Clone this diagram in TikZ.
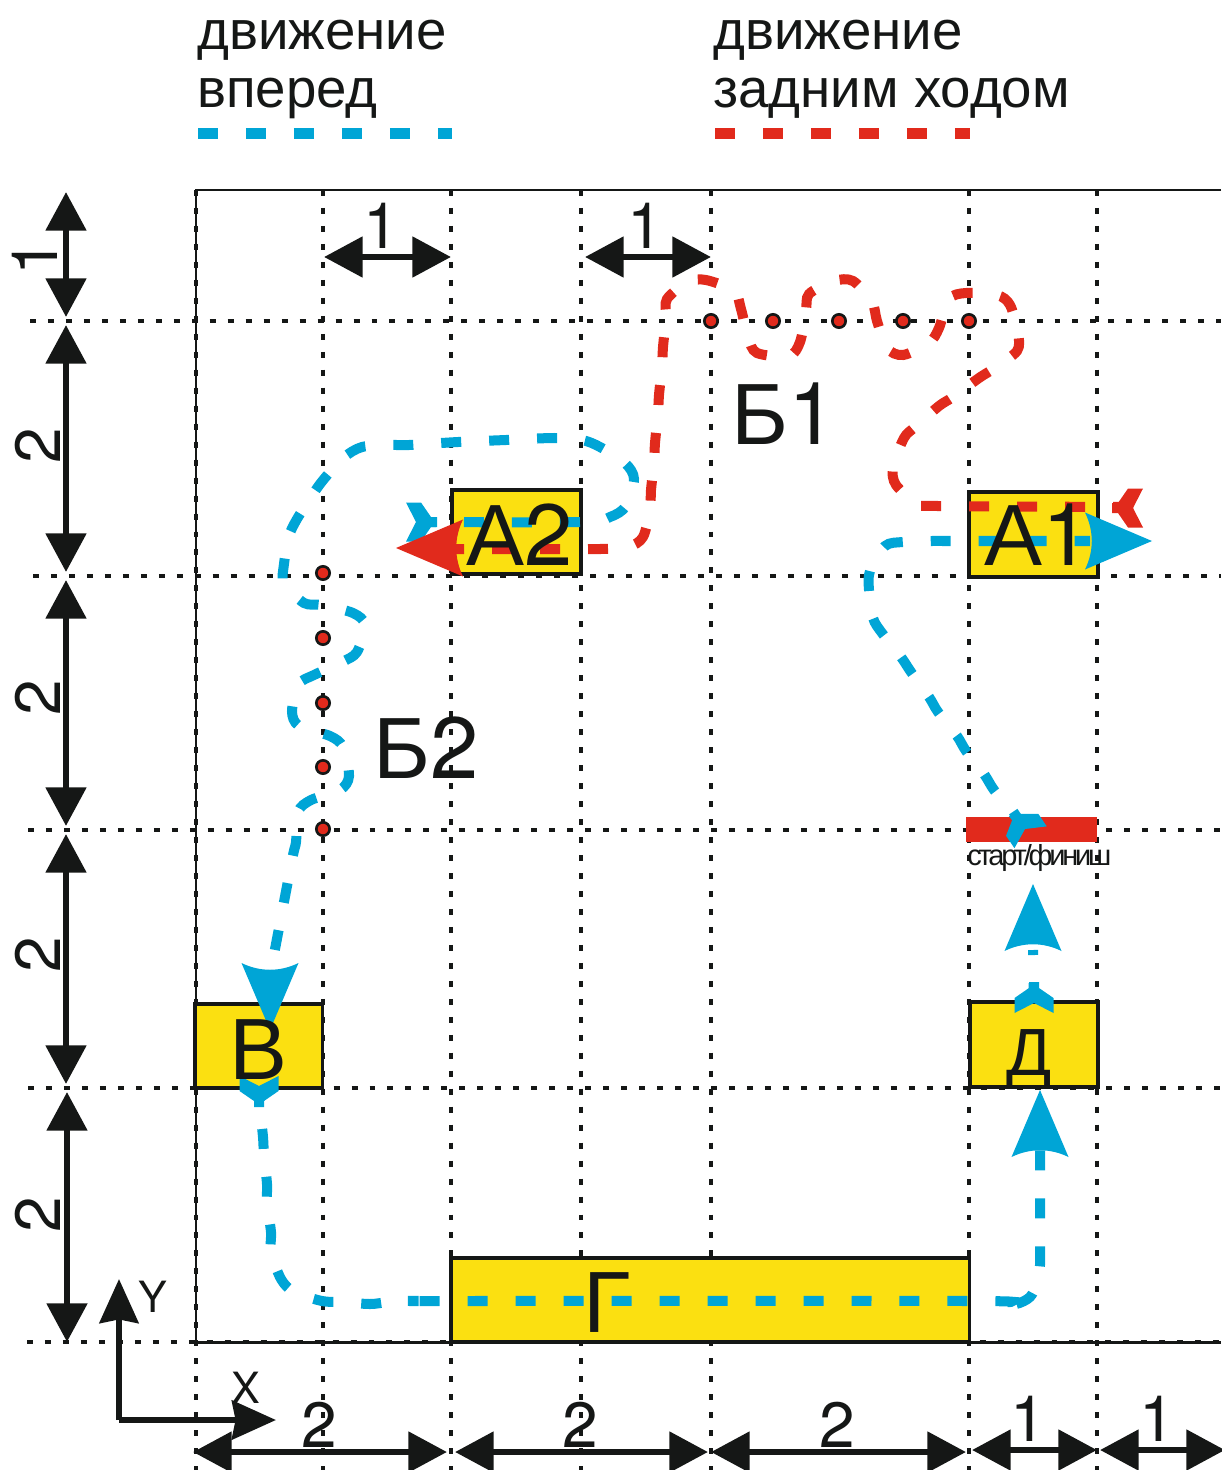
\documentclass[tikz,border=0pt]{standalone}
\usepackage{fontspec}
\setmainfont{Liberation Sans}
\newfontfamily\heros{TeX Gyre Heros}
\usetikzlibrary{arrows.meta}
\definecolor{bluec}{HTML}{00A5D6}
\definecolor{redc}{HTML}{E12A1C}
\definecolor{yelc}{HTML}{FBE011}
\definecolor{blk}{HTML}{151716}
\tikzset{
  gridline/.style={blk,line width=2.2pt,dash pattern=on 3.4pt off 6.83pt},
  frameline/.style={blk,line width=1.7pt},
  route/.style={line width=5.7pt,dash pattern=on 11.38pt off 15.93pt},
  blueroute/.style={route,bluec},
  redroute/.style={route,redc},
  box/.style={draw=blk,fill=yelc,line width=1.8pt,inner sep=0pt,outer sep=0pt,anchor=north west},
  startbar/.style={fill=redc,inner sep=0pt,outer sep=0pt,anchor=north west,minimum width=74.5pt,minimum height=14.2pt},
  dot/.style={circle,draw=blk,fill=redc,line width=1.5pt,inner sep=0pt,minimum size=7.6pt},
  dim/.style={blk,line width=3.8pt,{Triangle[length=22pt,width=22.5pt]}-{Triangle[length=22pt,width=22.5pt]}},
  axis/.style={blk,line width=3.8pt,-{Stealth[length=25pt,width=22pt,inset=2pt]}},
  big/.style={font=\fontsize{49.5pt}{50pt}\selectfont,text=blk,inner sep=0pt,anchor=base},
  digit/.style={font=\fontsize{36.4pt}{37pt}\heros,text=blk,inner sep=0pt,anchor=base},
  legend/.style={font=\fontsize{31.1pt}{32pt}\selectfont,text=blk,inner sep=0pt,anchor=base west},
  axlabel/.style={font=\fontsize{24.5pt}{25pt}\heros,text=blk,inner sep=0pt,anchor=base},
  headp/.pic={\fill[#1] (0,0) -- (-67,28.5) .. controls (-58,10) and (-58,-10) .. (-67,-28.5) -- cycle;},
  tailp/.pic={\fill[#1] (0,0) -- (-10,19.5) -- (5,19.5) -- (15,5) -- (21,5) -- (21,-5) -- (15,-5) -- (5,-19.5) -- (-10,-19.5) -- cycle;}
}
\begin{document}
\begin{tikzpicture}[x=0.02cm,y=-0.02cm]
\useasboundingbox (0,0) rectangle (1221,1470);
% grid
\foreach \gx in {196,323,451,581,711,969,1097}{\draw[gridline] (\gx,190) -- (\gx,1470);}
\foreach \gy/\gs in {321/30,576/33,830/28,1088/28,1342/27}{\draw[gridline] (\gs,\gy) -- (1221,\gy);}
% frame
\coordinate (ftl) at (196,190); \coordinate (ftr) at (1221,190);
\coordinate (fbl) at (196,1342); \coordinate (fbr) at (1221,1342);
\draw[frameline] (ftr) -- (ftl) -- (fbl) -- (fbr);
% boxes
\node[box,minimum width=73.4pt,minimum height=47.8pt] (boxA2) at (452,490) {};
\node[box,minimum width=73.4pt,minimum height=48.4pt] (boxA1) at (969,492) {};
\node[box,minimum width=72.8pt,minimum height=47.8pt] (boxV) at (195,1004) {};
\node[box,minimum width=72.8pt,minimum height=48.4pt] (boxD) at (970,1002) {};
\node[box,minimum width=295.3pt,minimum height=47.8pt] (boxG) at (451,1258) {};
\node[startbar] (bar) at (966,817) {};
% legend
\node[legend] (l1) at (197,50) {движение};
\node[legend] (l2) at (197,108) {вперед};
\node[legend] (l3) at (713,50) {движение};
\node[legend] (l4) at (713,108) {задним ходом};
\coordinate (lb1) at (198,133.5); \coordinate (lb2) at (452,133.5);
\coordinate (lr1) at (715,133.5); \coordinate (lr2) at (970,133.5);
\draw[blueroute] (lb1) -- (lb2);
\draw[redroute] (lr1) -- (lr2);
% routes
\draw[blueroute] plot[smooth,tension=0.5] coordinates {(416,522) (582,522) (610,517) (626,506) (634,479) (625,463) (600,447) (582,440) (554,438) (506,440) (458,442) (409,445) (390,445) (362,447) (343,458) (324,479) (313,494) (297,519) (289,536) (284,564) (284,583) (304,603) (322,605) (353,613) (365,625) (357,652) (342,662) (314,675) (299,684) (292,711) (299,726) (330,736) (343,747) (349,776) (340,790) (311,800) (298,812) (296,842) (292,860) (272,965)};
\draw[blueroute,dash phase=2.8pt] plot[smooth,tension=0.5] coordinates {(259,1086) (260,1108) (263,1137) (264,1155) (267,1184) (267,1203) (271,1232) (271,1252) (281,1279) (294,1292) (322,1301) (341,1302) (370,1304) (389,1302) (418,1301) (438,1301) (970,1301) (998,1303) (1016,1304) (1030,1297) (1037,1283) (1040,1265) (1040,1237) (1040,1150)};
\draw[blueroute] (1034,1003) -- (1033,950);
\draw[blueroute] plot[smooth,tension=0.5] coordinates {(1025,829) (1012,812) (994,790) (984,774) (966,751) (957,736) (938,712) (929,697) (911,672) (901,657) (882,633) (873,618) (869,590) (870,571) (885,546) (903,542) (932,541) (952,541) (1090,541)};
\draw[redroute] plot[smooth,tension=0.5] coordinates {(1133,507) (938,506) (918,504) (896,485) (893,467) (904,438) (915,427) (939,406) (953,397) (979,378) (993,369) (1017,351) (1018,333) (1010,305) (997,295) (966,293) (949,299) (939,328) (929,343) (903,355) (887,348) (877,321) (872,302) (853,281) (834,281) (809,294) (806,312) (800,342) (789,356) (757,353) (748,337) (741,309) (734,291) (706,280) (688,282) (667,299) (666,318) (663,347) (662,366) (659,395) (658,413) (655,443) (654,462) (651,490) (650,509) (643,537) (628,547) (600,549) (456,549)};
% tails and heads
\pic[rotate=0] at (416,522) {tailp=bluec};
\pic[rotate=180] at (1133,508) {tailp=redc};
\pic[rotate=90] at (1034,1003) {tailp=bluec};
\pic[rotate=-90] at (259,1086) {tailp=bluec};
\pic[rotate=124] at (1025,829) {tailp=bluec};
\pic[rotate=0] at (1152,541) {headp=bluec};
\pic[rotate=180] at (396,548) {headp=redc};
\pic[rotate=-90] at (270,1030) {headp=bluec};
\pic[rotate=90] at (1040,1090) {headp=bluec};
\pic[rotate=90] at (1033,884) {headp=bluec};
% dots
\foreach \dx/\nm in {711/a,773/b,839/c,903/d,969/e}{\node[dot] (dot\nm) at (\dx,321) {};}
\foreach \dy/\nm in {573/f,638/g,703/h,767/i,829/j}{\node[dot] (dot\nm) at (323,\dy) {};}
% dimension arrows
\coordinate (va1) at (66,192); \coordinate (va2) at (66,317);
\coordinate (vb1) at (66,325); \coordinate (vb2) at (66,572);
\coordinate (vc1) at (66,580); \coordinate (vc2) at (66,826);
\coordinate (vd1) at (66,834); \coordinate (vd2) at (66,1084);
\coordinate (ve1) at (67,1092); \coordinate (ve2) at (67,1342);
\draw[dim] (va1) -- (va2);
\draw[dim] (vb1) -- (vb2);
\draw[dim] (vc1) -- (vc2);
\draw[dim] (vd1) -- (vd2);
\draw[dim] (ve1) -- (ve2);
\coordinate (ha1) at (193,1452); \coordinate (ha2) at (447,1452);
\coordinate (hb1) at (455,1452); \coordinate (hb2) at (708,1452);
\coordinate (hc1) at (711,1452); \coordinate (hc2) at (966,1452);
\coordinate (hd1) at (972,1450); \coordinate (hd2) at (1097,1450);
\coordinate (he1) at (1100,1450); \coordinate (he2) at (1225,1450);
\draw[dim] (ha1) -- (ha2);
\draw[dim] (hb1) -- (hb2);
\draw[dim] (hc1) -- (hc2);
\draw[dim] (hd1) -- (hd2);
\draw[dim] (he1) -- (he2);
\coordinate (ta1) at (324,257); \coordinate (ta2) at (451,257);
\coordinate (tb1) at (585,257); \coordinate (tb2) at (711,257);
\draw[dim] (ta1) -- (ta2);
\draw[dim] (tb1) -- (tb2);
% axes
\coordinate (axo) at (119,1420); \coordinate (axx) at (276,1420); \coordinate (axy) at (119,1279);
\draw[axis] (axo) -- (axx);
\draw[axis] (axo) -- (axy);
\node[axlabel] (ylab) at (153,1312) {Y};
\node[axlabel] (xlab) at (246,1403) {X};
% labels
\node[big] (tA2) at (520,565) {А{\heros 2}};
\node[big] (tA1) at (1038,565) {А{\heros 1}};
\node[big] (tB1) at (784,444) {Б{\heros 1}};
\node[big] (tB2) at (426,778) {Б{\heros 2}};
\node[big] (tV) at (259,1079) {В};
\node[big] (tG) at (607,1332) {Г};
\node[font=\fontsize{38pt}{39pt}\selectfont,text=blk,inner sep=0pt,anchor=base] (tD) at (1029,1075) {Д};
\node[font=\fontsize{16.5pt}{17pt}\selectfont\addfontfeature{LetterSpace=-11},text=blk,inner sep=0pt,anchor=base west] (tS) at (967,865) {старт/финиш};
\node[digit,rotate=90] (d1) at (57,258) {1};
\node[digit,rotate=90] (d2) at (60,446) {2};
\node[digit,rotate=90] (d3) at (60,698) {2};
\node[digit,rotate=90] (d4) at (60,955) {2};
\node[digit,rotate=90] (d5) at (60,1215) {2};
\node[digit] (d6) at (381,248) {1};
\node[digit] (d7) at (645,248) {1};
\node[digit] (d8) at (319,1447) {2};
\node[digit] (d9) at (580,1447) {2};
\node[digit] (d10) at (837,1447) {2};
\node[digit] (d11) at (1028,1441) {1};
\node[digit] (d12) at (1157,1441) {1};
\end{tikzpicture}
\end{document}
